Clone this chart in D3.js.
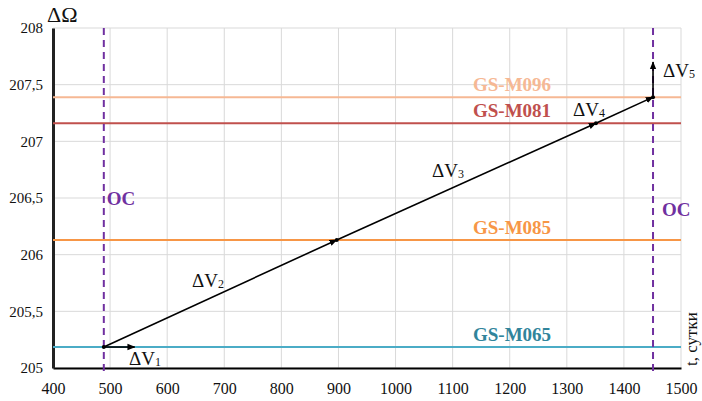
<!DOCTYPE html>
<html>
<head>
<meta charset="UTF-8">
<title></title>
<style>
  body { margin: 0; background: #fff; }
  text { font-family: "Liberation Serif", "DejaVu Serif", serif; }
</style>
</head>
<body>
<svg width="702" height="401"></svg>
<script src="https://cdn.jsdelivr.net/npm/d3@7"></script>
<script>
// осі
var xTicks = [400, 500, 600, 700, 800, 900, 1000, 1100, 1200, 1300, 1400, 1500];
var yTicks = [205, 205.5, 206, 206.5, 207, 207.5, 208];

// опорні орбіти
var orbitNames = ["GS-M096", "GS-M081", "GS-M085", "GS-M065"];
var orbitOmega = [207.39, 207.16, 206.13, 205.185];
var orbitColors = ["#F6B894", "#C0504D", "#F79646", "#4BACC6"];
var orbitTextColors = ["#F6B894", "#C0504D", "#F79646", "#31849B"];

// ОС
var ocDays = [489, 1451];

// траєкторія
var pathDays = [489, 897, 1351, 1451];
var pathOmega = [205.185, 206.13, 207.16, 207.39];
var dv1Day = 543;
var dv5Omega = 207.7;

var svg = d3.select("svg");
var m = {left: 53, right: 21, top: 28, bottom: 33};
var W = 702 - m.left - m.right, H = 401 - m.top - m.bottom;

var x = d3.scaleLinear().domain([400, 1500]).range([m.left, m.left + W]);
var y = d3.scaleLinear().domain([205, 208]).range([m.top + H, m.top]);

svg.append("defs").append("marker")
  .attr("id", "arr")
  .attr("viewBox", "0 0 10 10")
  .attr("refX", 9).attr("refY", 5)
  .attr("markerWidth", 5).attr("markerHeight", 5)
  .attr("orient", "auto")
  .append("path").attr("d", "M0,1 L10,5 L0,9 Z").attr("fill", "#000");

// сітка
svg.append("g").selectAll("line").data(xTicks).enter().append("line")
  .attr("x1", d => x(d)).attr("x2", d => x(d))
  .attr("y1", y(208)).attr("y2", y(205))
  .attr("stroke", "#D9D9D9").attr("stroke-width", 1);
svg.append("g").selectAll("line").data(yTicks).enter().append("line")
  .attr("x1", x(400)).attr("x2", x(1500))
  .attr("y1", d => y(d)).attr("y2", d => y(d))
  .attr("stroke", "#D9D9D9").attr("stroke-width", 1);

// осі
var fmt = d => String(d).replace(".", ",");
var xAxis = svg.append("g").attr("transform", "translate(0," + y(205) + ")")
  .call(d3.axisBottom(x).tickValues(xTicks).tickSize(0).tickPadding(15).tickFormat(d => d));
var yAxis = svg.append("g").attr("transform", "translate(" + x(400) + ",0)")
  .call(d3.axisLeft(y).tickValues(yTicks).tickSize(0).tickPadding(10).tickFormat(fmt));
xAxis.attr("font-family", null);
yAxis.attr("font-family", null);
xAxis.select(".domain").attr("stroke", "#000").attr("stroke-width", 2);
yAxis.select(".domain").attr("stroke", "#222").attr("stroke-width", 3);
xAxis.selectAll("text").style("font-family", "'Liberation Serif', serif").style("font-size", "16px").attr("fill", "#111");
yAxis.selectAll("text").style("font-family", "'Liberation Serif', serif").style("font-size", "15px").attr("fill", "#111");

// орбіти
orbitNames.forEach(function (name, i) {
  svg.append("line")
    .attr("x1", x(400)).attr("x2", x(1500))
    .attr("y1", y(orbitOmega[i])).attr("y2", y(orbitOmega[i]))
    .attr("stroke", orbitColors[i]).attr("stroke-width", 2);
  svg.append("text")
    .attr("x", 473).attr("y", y(orbitOmega[i]) - 6)
    .attr("font-size", 19).attr("font-weight", "bold")
    .attr("fill", orbitTextColors[i]).text(name);
});

// ОС
ocDays.forEach(function (d, i) {
  svg.append("line")
    .attr("x1", x(d)).attr("x2", x(d))
    .attr("y1", y(208)).attr("y2", y(205) + 3)
    .attr("stroke", "#7030A0").attr("stroke-width", 2)
    .attr("stroke-dasharray", "7,5");
});
svg.append("text").attr("x", x(ocDays[0]) + 3).attr("y", 205)
  .attr("font-size", 19).attr("font-weight", "bold").attr("fill", "#7030A0").text("OC");
svg.append("text").attr("x", x(ocDays[1]) + 9).attr("y", 216)
  .attr("font-size", 19).attr("font-weight", "bold").attr("fill", "#7030A0").text("OC");

// траєкторія
var segs = [];
segs.push([[pathDays[0], pathOmega[0]], [dv1Day, pathOmega[0]]]);
for (var i = 0; i < pathDays.length - 1; i++) {
  segs.push([[pathDays[i], pathOmega[i]], [pathDays[i + 1], pathOmega[i + 1]]]);
}
segs.push([[pathDays[3], pathOmega[3]], [pathDays[3], dv5Omega]]);

svg.append("g").selectAll("line").data(segs).enter().append("line")
  .attr("x1", d => x(d[0][0])).attr("y1", d => y(d[0][1]))
  .attr("x2", d => x(d[1][0])).attr("y2", d => y(d[1][1]))
  .attr("stroke", "#000").attr("stroke-width", 1.6)
  .attr("marker-end", "url(#arr)");

svg.append("g").selectAll("circle").data(pathDays).enter().append("circle")
  .attr("cx", d => x(d)).attr("cy", (d, i) => y(pathOmega[i]))
  .attr("r", 2).attr("fill", "#000");

// підписи ΔV
var dvPos = [[129, 365], [192, 287], [432, 177], [573, 116], [663, 77]];
dvPos.forEach(function (p, i) {
  var t = svg.append("text").attr("x", p[0]).attr("y", p[1])
    .attr("font-size", 19).attr("fill", "#111");
  t.append("tspan").text("ΔV");
  t.append("tspan").attr("font-size", 12).attr("dy", 1).text(i + 1);
});

// заголовки осей
svg.append("text").attr("x", 47).attr("y", 22)
  .attr("font-size", 22).attr("fill", "#111").text("ΔΩ");
svg.append("text")
  .attr("transform", "translate(697,366) rotate(-90)")
  .attr("font-size", 17).attr("fill", "#111").text("t, сутки");
</script>
</body>
</html>
